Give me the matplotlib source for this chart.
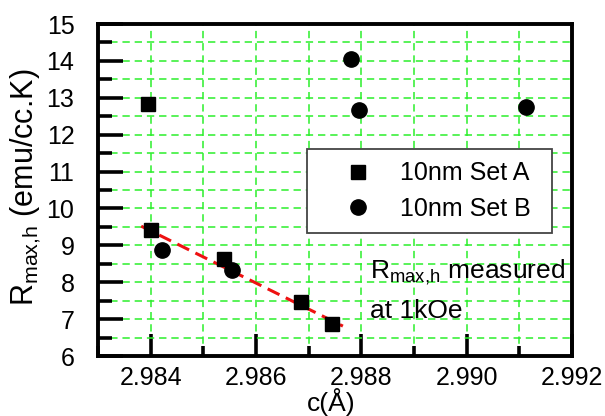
import matplotlib
matplotlib.use("Agg")
import matplotlib.pyplot as plt
from matplotlib.ticker import MultipleLocator, FormatStrFormatter

plt.rcParams['font.family'] = ['Liberation Sans', 'DejaVu Sans']
plt.rcParams['mathtext.fontset'] = 'custom'
plt.rcParams['mathtext.rm'] = 'Liberation Sans'
plt.rcParams['mathtext.it'] = 'Liberation Sans'

# Data
setA_x = [2.98394, 2.98401, 2.98540, 2.98685, 2.98744]
setA_y = [12.83, 9.42, 8.64, 7.46, 6.88]
setB_x = [2.98422, 2.98554, 2.98781, 2.98796, 2.99112]
setB_y = [8.88, 8.32, 14.05, 12.67, 12.74]
fit_x = [2.98382, 2.98765]
fit_y = [9.52, 6.81]

fig = plt.figure(figsize=(6.05, 4.16), dpi=100)
ax = fig.add_axes([98/605, 1-356/416, 474/605, 332/416])

ax.set_xlim(2.983, 2.992)
ax.set_ylim(6, 15)

ax.xaxis.set_major_locator(MultipleLocator(0.002))
ax.xaxis.set_minor_locator(MultipleLocator(0.001))
ax.yaxis.set_major_locator(MultipleLocator(1))
ax.yaxis.set_minor_locator(MultipleLocator(0.5))
ax.xaxis.set_major_formatter(FormatStrFormatter('%.3f'))

ax.grid(True, which='both', color='#2bef2b', linestyle=(0, (4.8, 3.2)), linewidth=1.1)
ax.set_axisbelow(True)

for s in ax.spines.values():
    s.set_linewidth(2.8)
ax.tick_params(axis='x', which='major', direction='in', length=16, width=2.6, labelsize=18, pad=7)
ax.tick_params(axis='x', which='minor', direction='in', length=7, width=2.6)
ax.tick_params(axis='y', which='major', direction='in', length=18, width=2.6, labelsize=18, pad=17)
ax.tick_params(axis='y', which='minor', direction='in', length=10, width=2.6)

ax.plot(fit_x, fit_y, color='#ee1111', linestyle=(0, (4.3, 2.3)), linewidth=2.2, zorder=3)
ax.plot(setA_x, setA_y, linestyle='none', marker='s', color='black', markersize=9.5,
        label='10nm Set A', zorder=4)
ax.plot(setB_x, setB_y, linestyle='none', marker='o', color='black', markersize=11,
        label='10nm Set B', zorder=4)

leg = ax.legend(loc='upper left', bbox_to_anchor=(0.441, 0.614, 0.517, 0.01),
                mode='expand', fontsize=18,
                frameon=True, fancybox=False, edgecolor='#444444', framealpha=1,
                borderpad=0.5, handletextpad=0.1, labelspacing=0.45,
                handlelength=3.1, borderaxespad=0)
leg.get_frame().set_linewidth(1.3)

ax.text(2.98816, 8.11, r'$\mathrm{R_{max{,}h}}$' + ' measured', fontsize=19,
        ha='left', va='baseline', zorder=5)
ax.text(2.98816, 7.03, 'at 1kOe', fontsize=19, ha='left', va='baseline', zorder=5)

fig.text(331/605, 1-402/416, 'c(Å)', fontsize=19, ha='center', va='center')
fig.text(26/605, 1-187/416, r'$\mathrm{R_{max{,}h}}$ (emu/cc.K)', fontsize=22,
         rotation=90, ha='center', va='center')

fig.savefig('out.png', dpi=100)
